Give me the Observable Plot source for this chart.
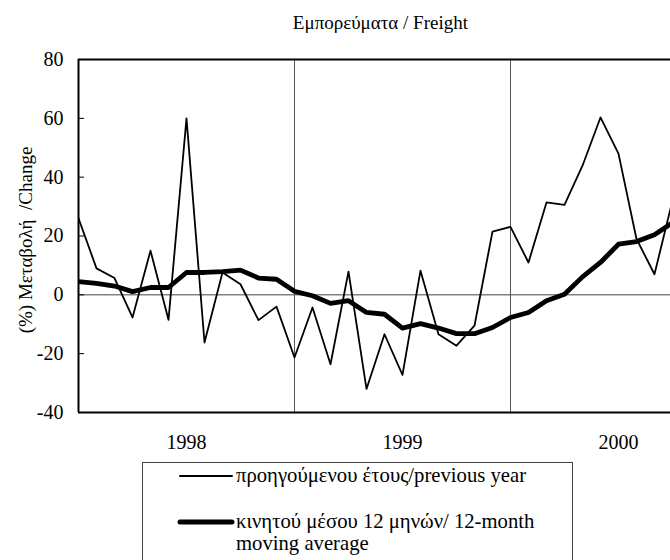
<!DOCTYPE html>
<html>
<head>
<meta charset="utf-8">
<script src="https://cdn.jsdelivr.net/npm/d3@7"></script>
<script src="https://cdn.jsdelivr.net/npm/@observablehq/plot@0.6"></script>
<style>
  html, body { margin: 0; padding: 0; background: #fff; overflow: hidden; }
  #wrap { position: relative; width: 670px; height: 560px; overflow: hidden; font-family: "Liberation Serif", "Times New Roman", serif; color: #000; }
  #title { position: absolute; left: 168px; width: 300px; top: 12px; text-align: right; font-size: 19px; line-height: normal; white-space: nowrap; }
  #chart { position: absolute; left: 0; top: 0; }
  #chart svg, #chart svg text { font-family: "Liberation Serif", "Times New Roman", serif !important; }
  #legend { position: absolute; left: 142px; top: 462px; width: 431px; height: 140px; border: 1px solid #444; box-sizing: border-box; font-size: 20.7px; }
  .txt { position: absolute; left: 93px; width: 332px; line-height: 22px; white-space: normal; }
  .sw { position: absolute; left: 34px; }
</style>
</head>
<body>
<div id="wrap">
  <div id="chart"></div>
  <div id="title"></div>
  <div id="legend"></div>
</div>
<script>
// Monthly observations, Jan 1998 .. Oct 2000
const months = ["1998-01","1998-02","1998-03","1998-04","1998-05","1998-06","1998-07","1998-08","1998-09","1998-10","1998-11","1998-12",
                "1999-01","1999-02","1999-03","1999-04","1999-05","1999-06","1999-07","1999-08","1999-09","1999-10","1999-11","1999-12",
                "2000-01","2000-02","2000-03","2000-04","2000-05","2000-06","2000-07","2000-08","2000-09","2000-10"];
// % change over previous year
const yoyChange = [26, 9, 5.7, -7.7, 15, -8.5, 60, -16.2, 7.6, 3.6, -8.6, -4,
                   -21.3, -4.3, -23.6, 7.9, -32, -13.4, -27.2, 8.2, -13.4, -17.3, -10.5, 21.5,
                   23.1, 11, 31.4, 30.6, 43.9, 60.3, 48, 19, 7, 32];
// 12-month moving average
const movingAvg = [4.5, 3.9, 3.0, 1.1, 2.5, 2.5, 7.6, 7.6, 7.9, 8.4, 5.7, 5.3,
                   1.2, -0.3, -2.9, -2.0, -6.0, -6.6, -11.3, -9.8, -11.3, -13.2, -13.2, -11.1,
                   -7.7, -6.0, -2.0, 0.2, 6.1, 11, 17.2, 18.1, 20.4, 24.5];
const years = ["1998", "1999", "2000"];
const yTicks = [-40, -20, 0, 20, 40, 60, 80];
const titleText = "Εμπορεύματα / Freight";
const yLabel = "(%) Μεταβολή\u00a0 /Change";
const legendLabels = ["προηγούμενου έτους/previous year", "κινητού μέσου 12 μηνών/ 12-month moving average"];

const data = months.map((m, i) => ({month: m, idx: i, yoy: yoyChange[i], ma: movingAvg[i]}));
const yearStart = years.map(y => months.indexOf(y + "-01"));
const yearMid = yearStart.map(s => s + 6);
const boundaries = yearStart.slice(1);

const chart = Plot.plot({
  width: 670,
  height: 462,
  marginLeft: 78,
  marginRight: 0,
  marginTop: 59,
  marginBottom: 50,
  style: {fontFamily: '"Liberation Serif", "Times New Roman", serif', fontSize: "20px", color: "#000", background: "transparent", overflow: "hidden"},
  x: {domain: [0, 32.89]},
  y: {domain: [-40, 80]},
  marks: [
    Plot.ruleY([0], {stroke: "#444", strokeWidth: 1}),
    Plot.ruleX(boundaries, {stroke: "#555", strokeWidth: 1}),
    Plot.ruleY(yTicks.slice(1, -1), {x1: 0, x2: 0.34, stroke: "#000", strokeWidth: 1}),
    Plot.ruleY([80, -40], {stroke: "#000", strokeWidth: 2}),
    Plot.ruleX([0], {stroke: "#000", strokeWidth: 2}),
    Plot.axisY(yTicks, {tickSize: 0, tickPadding: 15, fontSize: 20, tickFormat: d => String(d)}),
    Plot.axisX(yearMid, {tickSize: 0, tickPadding: 22, fontSize: 20, tickFormat: (d, i) => years[i], label: null}),
    Plot.text([yLabel], {frameAnchor: "left", textAnchor: "middle", rotate: -90, dx: -53, dy: 4, fontSize: 19}),
    Plot.line(data, {x: "idx", y: "yoy", stroke: "#000", strokeWidth: 1.8, clip: true}),
    Plot.line(data, {x: "idx", y: "ma", stroke: "#000", strokeWidth: 4.8, strokeLinejoin: "round", clip: true})
  ]
});
document.getElementById("chart").appendChild(chart);
document.getElementById("title").textContent = titleText;

const legend = document.getElementById("legend");
const textTops = [0.6, 47];
const lineYs = [12.5, 59];   // relative to legend inner top
const widths = [2, 5];
legendLabels.forEach((lab, k) => {
  const sw = document.createElementNS("http://www.w3.org/2000/svg", "svg");
  sw.setAttribute("class", "sw");
  sw.setAttribute("width", "60");
  sw.setAttribute("height", "12");
  sw.style.top = (lineYs[k] - 6) + "px";
  sw.innerHTML = `<line x1="3" x2="55" y1="6" y2="6" stroke="#000" stroke-width="${widths[k]}" stroke-linecap="round"/>`;
  legend.appendChild(sw);
  const t = document.createElement("div");
  t.className = "txt";
  t.style.top = textTops[k] + "px";
  t.textContent = lab;
  legend.appendChild(t);
});
</script>
</body>
</html>
